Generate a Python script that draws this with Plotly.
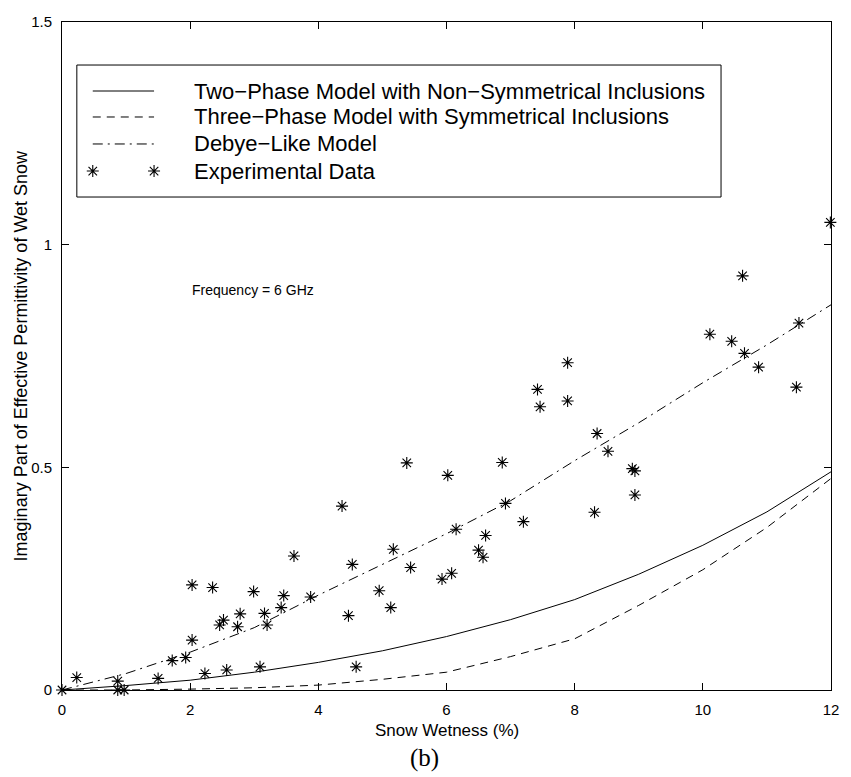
import plotly.graph_objects as go

# ---------------- data ----------------
model_x = [0, 1, 2, 3, 4, 5, 6, 7, 8, 9, 10, 11, 12]
two_phase = [0, 0.010, 0.022, 0.040, 0.062, 0.088, 0.120, 0.158, 0.203, 0.260, 0.325, 0.400, 0.490]
three_phase = [0, 0.0, 0.002, 0.005, 0.011, 0.024, 0.040, 0.075, 0.115, 0.190, 0.270, 0.365, 0.475]
debye = [0, 0.037, 0.085, 0.140, 0.213, 0.282, 0.351, 0.425, 0.515, 0.600, 0.690, 0.775, 0.865]

exp_x = [0.00, 0.23, 0.87, 0.87, 0.97, 1.50, 1.72, 1.93, 2.03, 2.03, 2.23, 2.35, 2.46, 2.52,
         2.57, 2.74, 2.78, 2.99, 3.09, 3.16, 3.20, 3.42, 3.46, 3.62, 3.88, 4.37, 4.47, 4.53,
         4.59, 4.95, 5.13, 5.17, 5.38, 5.44, 5.93, 6.02, 6.08, 6.15, 6.50, 6.57, 6.61, 6.87,
         6.92, 7.20, 7.42, 7.46, 7.89, 7.89, 8.31, 8.35, 8.52, 8.90, 8.94, 8.94, 10.11, 10.45,
         10.62, 10.65, 10.87, 11.46, 11.50, 11.99]
exp_y = [0.000, 0.028, 0.020, 0.000, 0.000, 0.026, 0.066, 0.073, 0.112, 0.236, 0.037, 0.230,
         0.146, 0.157, 0.045, 0.142, 0.171, 0.221, 0.052, 0.172, 0.146, 0.185, 0.212, 0.301,
         0.209, 0.413, 0.167, 0.282, 0.052, 0.223, 0.185, 0.316, 0.510, 0.275, 0.249, 0.482,
         0.262, 0.361, 0.314, 0.298, 0.347, 0.511, 0.419, 0.378, 0.675, 0.636, 0.735, 0.649,
         0.399, 0.576, 0.536, 0.497, 0.492, 0.438, 0.799, 0.783, 0.930, 0.756, 0.725, 0.680,
         0.824, 1.050]

x_ticks = [0, 2, 4, 6, 8, 10, 12]
y_ticks = [0, 0.5, 1, 1.5]
y_tick_text = ["0", "0.5", "1", "1.5"]

legend_labels = [
    "Two\u2212Phase Model with Non\u2212Symmetrical Inclusions",
    "Three\u2212Phase Model with Symmetrical Inclusions",
    "Debye\u2212Like Model",
    "Experimental Data",
]

# ---------------- styles ----------------
FONT = "Liberation Sans, Arial, Helvetica, sans-serif"
DASH = "8px,6px"
DASHDOT = "10px,5px,2px,5px"
line_styles = [dict(color="black", width=1),
               dict(color="black", width=1, dash=DASH),
               dict(color="black", width=1, dash=DASHDOT)]
star = dict(symbol="asterisk-open", size=10, color="black", line=dict(color="black", width=1.1))

fig = go.Figure()
for ys, st in zip([two_phase, three_phase, debye], line_styles):
    fig.add_trace(go.Scatter(x=model_x, y=ys, mode="lines", line=st, showlegend=False,
                             hoverinfo="skip"))
fig.add_trace(go.Scatter(x=exp_x, y=exp_y, mode="markers", marker=star, showlegend=False,
                         cliponaxis=False))

# ---------------- custom MATLAB-style legend (in axis-fraction coordinates) ----------------
leg_left, leg_right, leg_top, leg_bottom = 0.0193, 0.857, 0.9356, 0.738
row_y = [0.8967, 0.8578, 0.8174, 0.7769]
samp_x0, samp_x1, text_x = 0.040, 0.1197, 0.1686

fig.add_shape(type="rect", xref="paper", yref="paper", x0=leg_left, x1=leg_right,
              y0=leg_bottom, y1=leg_top, line=dict(color="black", width=1),
              fillcolor="white", layer="below")
for i, st in enumerate(line_styles):
    fig.add_trace(go.Scatter(x=[samp_x0, samp_x1], y=[row_y[i], row_y[i]], mode="lines",
                             line=st, xaxis="x2", yaxis="y2", showlegend=False,
                             hoverinfo="skip"))
fig.add_trace(go.Scatter(x=[samp_x0, samp_x1], y=[row_y[3], row_y[3]], mode="markers",
                         marker=star, xaxis="x2", yaxis="y2", showlegend=False,
                         hoverinfo="skip", cliponaxis=False))
for i, lab in enumerate(legend_labels):
    fig.add_annotation(x=text_x, y=row_y[i], xref="paper", yref="paper", text=lab,
                       showarrow=False, xanchor="left", yanchor="middle",
                       font=dict(family=FONT, size=22, color="black"))

# ---------------- annotations ----------------
fig.add_annotation(x=2.0, y=0.898, xref="x", yref="y", text="Frequency = 6 GHz",
                   showarrow=False, xanchor="left", yanchor="middle",
                   font=dict(family=FONT, size=14, color="black"))
fig.add_annotation(x=0.5, y=-0.06, xref="paper", yref="paper", text="Snow Wetness (%)",
                   showarrow=False, xanchor="center", yanchor="middle",
                   font=dict(family=FONT, size=17, color="black"))
fig.add_annotation(x=-0.0528, y=0.5, xref="paper", yref="paper",
                   text="Imaginary Part of Effective Permittivity of Wet Snow",
                   textangle=-90, showarrow=False, xanchor="center", yanchor="middle",
                   font=dict(family=FONT, size=18, color="black"))
fig.add_annotation(x=0.471, y=-0.102, xref="paper", yref="paper", text="(b)",
                   showarrow=False, xanchor="center", yanchor="middle",
                   font=dict(family="Liberation Serif, Times New Roman, serif", size=25,
                             color="black"))

axis_common = dict(showline=True, linecolor="black", linewidth=1, mirror="ticks",
                   ticks="inside", ticklen=7, tickcolor="black", tickwidth=1,
                   showgrid=False, zeroline=False,
                   tickfont=dict(family=FONT, size=15, color="black"))

fig.update_layout(
    width=851, height=777,
    margin=dict(l=62, r=12, t=22, b=87),
    paper_bgcolor="white", plot_bgcolor="white",
    xaxis=dict(range=[0, 12], tickvals=x_ticks, ticklabelstandoff=6, **axis_common),
    yaxis=dict(range=[0, 1.5], tickvals=y_ticks, ticktext=y_tick_text,
               ticklabelstandoff=6, **axis_common),
    xaxis2=dict(range=[0, 1], overlaying="x", visible=False, anchor="y2"),
    yaxis2=dict(range=[0, 1], overlaying="y", visible=False, anchor="x2"),
    showlegend=False,
)

fig.write_html("out.html")
